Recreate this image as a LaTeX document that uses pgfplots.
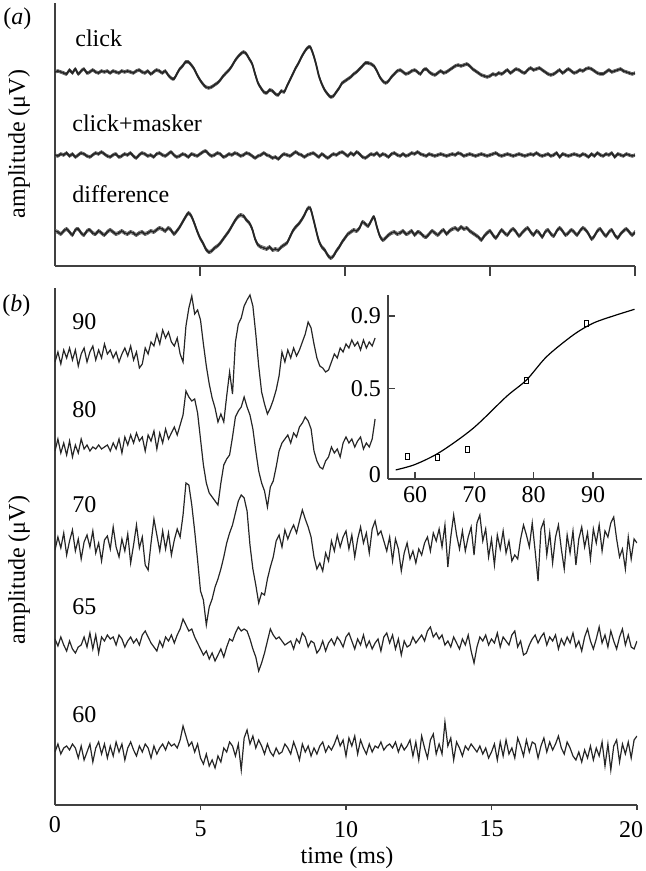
\documentclass[border=0pt]{standalone}
\usepackage{fontspec}
\setmainfont{Liberation Serif}
\usepackage{pgfplots}
\usepackage{pgfplotstable}
\pgfplotsset{compat=1.18}

% panel (a): offsets (px) of each averaged waveform from its own baseline
\pgfplotstableread{
t c m d
0.0 0 0 2
0.1 1 -1 1
0.2 0 1 -1
0.3 -1 0 2
0.4 -2 2 4
0.5 2 -1 1
0.6 -1 1 -2
0.7 3 -2 3
0.8 -2 0 4
0.9 1 2 0
1.0 3 1 -2
1.1 -1 -1 2
1.2 0 -2 3
1.3 2 0 0
1.4 0 2 -1
1.5 -1 1 2
1.6 1 3 0
1.7 0 1 -2
1.8 1 -1 1
1.9 -1 -2 3
2.0 1 0 1
2.1 0 1 -1
2.2 -1 -2 0
2.3 1 -1 2
2.4 0 1 0
2.5 1 0 -1
2.6 0 2 1
2.7 -1 -1 0
2.8 1 -3 -2
2.9 2 0 0
3.0 0 2 1
3.1 -1 1 -1
3.2 1 -1 0
3.3 -2 0 2
3.4 0 -2 1
3.5 2 1 3
3.6 1 2 5
3.7 -1 0 4
3.8 1 -1 2
3.9 -3 1 5
4.0 -6 3 3
4.1 -7 0 -1
4.2 -2 -2 2
4.3 3 -1 6
4.4 6 1 11
4.5 10 0 16
4.6 10 -2 20
4.7 7 1 17
4.8 3 0 10
4.9 -3 -1 2
5.0 -8 1 -5
5.1 -12 3 -10
5.2 -15 4 -16
5.3 -16 1 -19
5.4 -15 -1 -18
5.5 -13 0 -15
5.6 -11 2 -13
5.7 -8 1 -10
5.8 -4 -2 -6
5.9 -1 -1 -2
6.0 2 1 2
6.1 6 0 7
6.2 11 2 12
6.3 15 1 16
6.4 18 -1 18
6.5 20 0 17
6.6 18 2 13
6.7 13 1 10
6.8 8 -1 4
6.9 -2 -3 -6
7.0 -11 -1 -12
7.1 -16 0 -14
7.2 -20 2 -15
7.3 -21 0 -16
7.4 -18 -1 -14
7.5 -19 -3 -17
7.6 -22 -2 -16
7.7 -23 -4 -17
7.8 -19 -1 -14
7.9 -20 1 -12
8.0 -14 0 -10
8.1 -8 -1 -4
8.2 -2 1 2
8.3 4 3 6
8.4 9 1 9
8.5 15 0 13
8.6 20 -2 18
8.7 24 0 24
8.8 25 1 25
8.9 18 2 15
9.0 8 0 3
9.1 -4 -2 -8
9.2 -12 1 -14
9.3 -18 -1 -17
9.4 -22 -3 -22
9.5 -25 -1 -25
9.6 -24 1 -23
9.7 -20 0 -18
9.8 -16 2 -14
9.9 -11 3 -9
10.0 -9 1 -5
10.1 -7 -1 -1
10.2 -5 2 1
10.3 -2 0 3
10.4 0 3 2
10.5 3 1 5
10.6 6 -2 11
10.7 9 -3 9
10.8 9 -1 7
10.9 8 1 12
11.0 6 0 16
11.1 1 2 6
11.2 -5 -1 -3
11.3 -9 1 -7
11.4 -11 0 -5
11.5 -9 -2 -2
11.6 -5 1 0
11.7 -2 2 1
11.8 1 0 -1
11.9 2 -1 0
12.0 0 1 2
12.1 -2 -1 -1
12.2 -1 0 0
12.3 1 2 2
12.4 2 1 -2
12.5 0 3 1
12.6 -2 1 0
12.7 2 0 -3
12.8 3 -1 -4
12.9 0 1 -1
13.0 -2 0 2
13.1 -3 -1 0
13.2 -1 0 -2
13.3 1 1 1
13.4 -1 0 3
13.5 0 -1 -1
13.6 2 0 2
13.7 4 1 4
13.8 6 0 5
13.9 7 2 3
14.0 6 1 6
14.1 7 -1 4
14.2 8 0 5
14.3 6 1 2
14.4 3 0 0
14.5 1 -1 -2
14.6 -1 0 -4
14.7 -3 1 -7
14.8 -4 0 -3
14.9 -5 -1 0
15.0 -4 0 2
15.1 -2 1 -2
15.2 -3 2 -5
15.3 -1 0 -1
15.4 -2 -1 3
15.5 0 0 0
15.6 2 1 -2
15.7 -1 0 2
15.8 1 -1 4
15.9 3 0 1
16.0 2 1 -3
16.1 0 0 0
16.2 -1 -1 3
16.3 2 0 5
16.4 4 1 1
16.5 2 0 -2
16.6 3 2 2
16.7 4 0 0
16.8 2 -1 -4
16.9 0 0 1
17.0 -2 1 3
17.1 -3 -1 -1
17.2 -2 0 -3
17.3 0 2 2
17.4 2 -2 5
17.5 -1 1 2
17.6 1 0 -2
17.7 3 -1 0
17.8 1 0 3
17.9 -1 1 1
18.0 0 0 -2
18.1 2 -1 2
18.2 1 1 5
18.3 3 0 3
18.4 4 -2 -1
18.5 3 1 -6
18.6 1 -1 -3
18.7 -1 2 2
18.8 -2 0 4
18.9 -2 -1 0
19.0 0 1 -3
19.1 2 0 1
19.2 0 2 3
19.3 1 -2 -2
19.4 2 1 -5
19.5 3 0 -1
19.6 1 -1 2
19.7 0 1 4
19.8 -1 0 1
19.9 -2 -1 -2
20.0 -1 0 1
}\tabA

% panel (b): single sweeps at 70, 65 and 60 dB
\pgfplotstableread{
t s70 s65 s60
0.0 -5 4 -2
0.1 8 -3 6
0.2 -3 6 -4
0.3 12 -2 2
0.4 -10 -8 4
0.5 4 2 0
0.6 15 -6 6
0.7 -6 -10 2
0.8 6 -4 -8
0.9 -14 -2 4
1.0 3 6 -10
1.1 10 -4 -2
1.2 -2 10 6
1.3 14 -6 -12
1.4 -8 8 2
1.5 2 -10 8
1.6 -16 6 -4
1.7 5 2 6
1.8 9 8 -8
1.9 -4 4 4
2.0 18 6 -6
2.1 -2 -2 8
2.2 -12 8 -2
2.3 6 4 6
2.4 -6 -4 -10
2.5 11 2 2
2.6 -18 6 8
2.7 0 0 0
2.8 20 4 -6
2.9 -3 -2 4
3.0 8 8 -2
3.1 -20 12 6
3.2 -25 6 2
3.3 2 0 -8
3.4 26 -4 4
3.5 10 -8 -4
3.6 -6 2 2
3.7 14 -4 6
3.8 -4 6 0
3.9 12 2 8
4.0 -10 8 4
4.1 5 0 6
4.2 16 8 2
4.3 8 14 10
4.4 30 24 24
4.5 62 18 14
4.6 60 12 4
4.7 40 14 8
4.8 14 6 -2
4.9 -15 0 6
5.0 -46 -6 -8
5.1 -55 -12 -14
5.2 -80 -8 -4
5.3 -62 -16 -16
5.4 -54 -10 -10
5.5 -42 -18 -18
5.6 -34 -12 -6
5.7 -24 -6 -12
5.8 -12 -14 2
5.9 2 -4 -2
6.0 12 4 8
6.1 20 2 4
6.2 32 10 -6
6.3 44 16 6
6.4 50 12 -20
6.5 47 14 12
6.6 34 12 20
6.7 0 4 6
6.8 -24 -6 14
6.9 -40 -14 2
7.0 -58 -28 10
7.1 -48 -20 4
7.2 -50 -10 -4
7.3 -34 2 6
7.4 -22 14 -2
7.5 -12 8 -6
7.6 4 4 2
7.7 10 6 -4
7.8 -2 2 -2
7.9 15 -2 6
8.0 6 0 2
8.1 14 2 -4
8.2 20 -6 8
8.3 12 4 0
8.4 24 0 -10
8.5 35 10 6
8.6 26 6 -2
8.7 18 -4 4
8.8 8 2 -6
8.9 -12 0 2
9.0 -24 -10 -4
9.1 -18 -6 4
9.2 -26 2 8
9.3 -8 -8 -2
9.4 -16 0 4
9.5 4 4 0
9.6 -6 -2 6
9.7 10 6 14
9.8 -2 2 4
9.9 8 -4 10
10.0 14 6 -6
10.1 -4 10 12
10.2 10 2 4
10.3 -12 -6 14
10.4 6 4 -4
10.5 18 -2 10
10.6 2 8 2
10.7 12 -4 -4
10.8 -8 2 6
10.9 16 -6 -2
11.0 24 0 4
11.1 10 4 2
11.2 14 -8 8
11.3 4 6 0
11.4 -6 10 4
11.5 8 0 6
11.6 -16 8 2
11.7 6 -6 8
11.8 -4 4 -2
11.9 -26 -12 6
12.0 -8 2 0
12.1 2 -4 4
12.2 -14 -2 10
12.3 -6 6 -6
12.4 -18 0 8
12.5 -4 4 -10
12.6 -10 8 14
12.7 2 2 2
12.8 8 12 -8
12.9 -6 16 10
13.0 12 6 16
13.1 4 10 -4
13.2 16 4 6
13.3 -2 8 -4
13.4 20 -2 28
13.5 -22 2 4
13.6 8 -4 12
13.7 30 6 -10
13.8 10 0 8
13.9 -4 -6 2
14.0 14 4 -6
14.1 -6 -2 4
14.2 8 8 0
14.3 18 -8 6
14.4 -10 -20 2
14.5 22 -4 -2
14.6 30 6 4
14.7 4 2 -4
14.8 16 8 2
14.9 -12 -2 -8
15.0 6 4 -2
15.1 -20 0 6
15.2 10 10 -10
15.3 -4 -4 8
15.4 14 6 -6
15.5 -8 2 10
15.6 4 -2 -4
15.7 -16 8 2
15.8 -10 12 -8
15.9 -14 -4 12
16.0 6 2 4
16.1 20 -12 -6
16.2 10 -10 10
16.3 -2 -2 -2
16.4 22 4 8
16.5 -6 8 6
16.6 -36 0 -8
16.7 16 6 4
16.8 24 10 12
16.9 -10 -2 -2
17.0 12 6 8
17.1 -18 2 0
17.2 8 8 6
17.3 20 -6 14
17.4 -4 4 2
17.5 -24 -2 -4
17.6 10 6 8
17.7 -8 0 2
17.8 14 10 -6
17.9 -20 -4 -10
18.0 6 2 -2
18.1 18 -8 -12
18.2 -2 6 0
18.3 12 14 -8
18.4 -14 2 4
18.5 16 -6 -10
18.6 2 4 2
18.7 20 16 -6
18.8 -6 0 8
18.9 14 8 -16
19.0 8 -4 6
19.1 22 12 -20
19.2 28 2 4
19.3 6 -6 10
19.4 -12 6 -12
19.5 -4 14 6
19.6 -24 -2 -4
19.7 8 8 8
19.8 -14 -4 -8
19.9 6 -6 10
20.0 2 2 14
}\tabB

% panel (b): 90 and 80 dB sweeps, cut where the inset starts
\pgfplotstableread{
t s90 s80
0.0 -6 -4
0.1 4 8
0.2 -8 -6
0.3 6 4
0.4 -2 -8
0.5 8 6
0.6 -4 -10
0.7 6 2
0.8 -10 -6
0.9 2 8
1.0 8 -2
1.1 -6 2
1.2 4 -4
1.3 10 0
1.4 -4 -2
1.5 6 2
1.6 -2 -2
1.7 12 0
1.8 2 2
1.9 6 -4
2.0 -2 4
2.1 4 -2
2.2 -6 8
2.3 2 -6
2.4 8 10
2.5 0 2
2.6 10 12
2.7 -4 4
2.8 4 14
2.9 -12 6
3.0 -8 10
3.1 8 -4
3.2 2 12
3.3 14 6
3.4 10 16
3.5 22 -2
3.6 12 14
3.7 26 4
3.8 18 18
3.9 24 8
4.0 14 14
4.1 10 20
4.2 18 12
4.3 2 22
4.4 -6 32
4.5 30 56
4.6 48 50
4.7 60 46
4.8 42 48
4.9 46 34
5.0 36 8
5.1 12 -18
5.2 -10 -36
5.3 -28 -46
5.4 -42 -50
5.5 -52 -54
5.6 -66 -58
5.7 -58 -36
5.8 -66 -18
5.9 -40 -12
6.0 -16 -8
6.1 -38 10
6.2 14 30
6.3 32 36
6.4 38 40
6.5 50 50
6.6 56 40
6.7 61 32
6.8 50 18
6.9 22 -4
7.0 -10 -24
7.1 -36 -36
7.2 -48 -44
7.3 -58 -60
7.4 -52 -40
7.5 -44 -34
7.6 -34 -20
7.7 -20 -4
7.8 4 4
7.9 -6 8
8.0 6 12
8.1 -2 4
8.2 8 14
8.3 0 10
8.4 6 20
8.5 14 24
8.6 22 30
8.7 34 26
8.8 28 18
8.9 12 -4
9.0 -2 -14
9.1 -10 -20
9.2 -12 -22
9.3 -16 -14
9.4 -14 -10
9.5 -6 0
9.6 2 -6
9.7 -2 -2
9.8 8 -10
9.9 4 4
10.0 12 10
10.1 8 4
10.2 16 8
10.3 10 0
10.4 14 6
10.5 6 10
10.6 16 -2
10.7 8 4
10.8 14 0
10.9 10 8
11.0 18 28
}\tabC

\begin{document}
\begin{tikzpicture}[font=\fontsize{12}{14}\selectfont]
\useasboundingbox (0,0) rectangle (323pt,435.5pt);
\pgfplotsset{
  every axis/.append style={
    font=\fontsize{12}{14}\selectfont,
    scale only axis,
    axis line style={black!75, line width=0.6pt},
    every inner x axis line/.append style={-},
    every inner y axis line/.append style={-},
    every outer x axis line/.append style={-},
    every outer y axis line/.append style={-},
    x axis line style={-}, y axis line style={-},
    tick style={black!75, line width=0.6pt},
    /pgf/number format/assume math mode=true,
  },
  avg/.style={no marks, smooth, black!85, line width=0.9pt},
  avgthin/.style={no marks, smooth, black!65, line width=0.35pt},
  sweep/.style={no marks, black!85, line width=0.6pt},
}

% (a) averaged responses
\begin{axis}[
  at={(27.5pt,302.5pt)}, anchor=south west,
  width=290pt, height=131.5pt,
  xmin=0, xmax=20, ymin=0, ymax=263,
  axis x line=bottom, axis y line=left,
  x axis line style={-}, y axis line style={-},
  xtick={5,10,15,20}, xticklabels={}, ytick=\empty,
  tick align=outside, major tick length=5pt,
]
\addplot[avgthin] table[x=t, y expr=\thisrow{c}+195.4] {\tabA};
\addplot[avgthin] table[x=t, y expr=\thisrow{c}+192.6] {\tabA};
\addplot[avg] table[x=t, y expr=\thisrow{c}+194] {\tabA};
\addplot[avgthin] table[x=t, y expr=\thisrow{m}+112.4] {\tabA};
\addplot[avgthin] table[x=t, y expr=\thisrow{m}+109.6] {\tabA};
\addplot[avg] table[x=t, y expr=\thisrow{m}+111] {\tabA};
\addplot[avgthin] table[x=t, y expr=\thisrow{d}+34.6] {\tabA};
\addplot[avgthin] table[x=t, y expr=\thisrow{d}+31.4] {\tabA};
\addplot[avg] table[x=t, y expr=\thisrow{d}+33] {\tabA};
\end{axis}

% (b) single sweeps at several levels
\begin{axis}[
  at={(27.5pt,33pt)}, anchor=south west,
  width=291pt, height=258.5pt,
  xmin=0, xmax=20, ymin=0, ymax=517,
  axis x line=bottom, axis y line=left,
  x axis line style={-}, y axis line style={-},
  xtick={5,10,15,20}, xticklabels={5,10,15,{\kern-6pt 20}},
  extra x ticks={0},
  extra x tick style={major tick length=0pt},
  ytick=\empty,
  tick align=outside, major tick length=2.5pt,
  xticklabel style={yshift=-2pt},
]
\addplot[sweep] table[x=t, y expr=\thisrow{s90}+449] {\tabC};
\addplot[sweep] table[x=t, y expr=\thisrow{s80}+358] {\tabC};
\addplot[sweep] table[x=t, y expr=\thisrow{s70}+260] {\tabB};
\addplot[sweep] table[x=t, y expr=\thisrow{s65}+162] {\tabB};
\addplot[sweep] table[x=t, y expr=\thisrow{s60}+55] {\tabB};
\end{axis}

% inset: detection probability against level
\begin{axis}[
  at={(194pt,196pt)}, anchor=south west,
  width=127pt, height=92pt,
  xmin=55.45, xmax=98.26, ymin=0, ymax=1.016,
  axis x line=bottom, axis y line=left,
  x axis line style={-}, y axis line style={-},
  xtick={60,70,80,90}, ytick={0,0.5,0.9},
  yticklabels={\raisebox{4pt}{0},0.5,0.9},
  tick align=inside, major tick length=3.5pt,
]
\addplot[no marks, smooth, black, line width=0.6pt] coordinates {
  (56.75,0.05) (60,0.08) (64.2,0.148) (69.8,0.28) (75.4,0.455)
  (78.8,0.547) (82.2,0.676) (86.7,0.796) (90,0.86) (93.4,0.90) (97,0.937)
};
\addplot[only marks, mark=square, mark size=1.1pt, black, line width=0.45pt,
  every mark/.append style={yscale=1.35}] coordinates {
  (58.7,0.123) (63.8,0.118) (68.8,0.164) (78.8,0.543) (88.9,0.86)
};
\end{axis}

\begin{scope}[every node/.style={inner sep=0pt}]
\node[anchor=base west] at (1.5pt,423pt) {(\textit{a})};
\node[anchor=base west] at (1pt,279.5pt) {(\textit{b})};
\node[anchor=base west] at (37.5pt,412pt) {click};
\node[anchor=base west] at (36pt,369.5pt) {click+masker};
\node[anchor=base west] at (36pt,334pt) {difference};
\node[anchor=base west] at (36pt,270.5pt) {90};
\node[anchor=base west] at (36pt,226.5pt) {80};
\node[anchor=base west] at (36pt,179pt) {70};
\node[anchor=base west] at (36pt,128pt) {65};
\node[anchor=base west] at (36pt,74pt) {60};
\node[rotate=90, anchor=base] at (12.5pt,363.5pt) {amplitude (μV)};
\node[rotate=90, anchor=base] at (12.5pt,150.5pt) {amplitude (μV)};
\node[anchor=base] at (173.5pt,3.5pt) {time (ms)};
\end{scope}
\end{tikzpicture}
\end{document}
